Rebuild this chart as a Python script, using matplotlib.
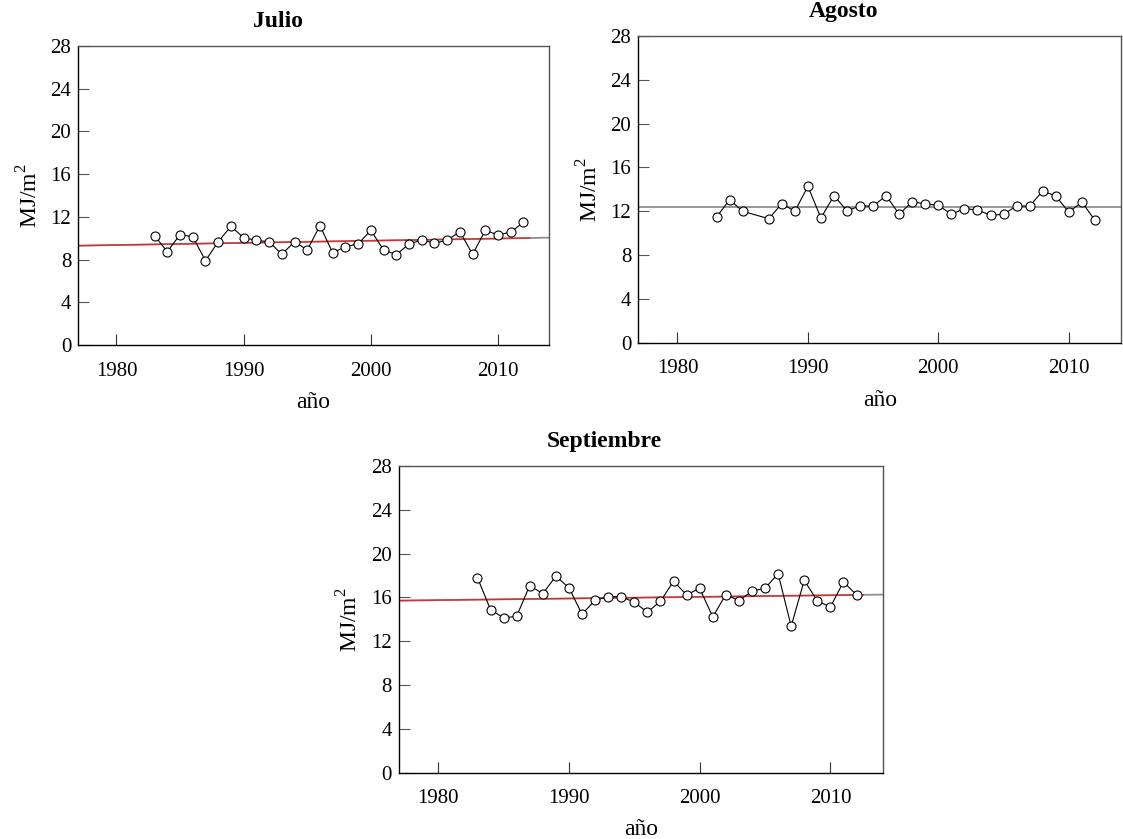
import matplotlib
matplotlib.use('Agg')
import matplotlib.pyplot as plt

plt.rcParams['font.family'] = ['Liberation Serif', 'DejaVu Serif']
plt.rcParams['mathtext.fontset'] = 'custom'
plt.rcParams['mathtext.rm'] = 'Liberation Serif'

# años y radiación media mensual (MJ/m2)
anios = list(range(1983, 2013))
julio = [10.23, 8.74, 10.33, 10.14, 7.89, 9.67, 11.11, 10.05, 9.80, 9.67,
         8.49, 9.67, 8.90, 11.17, 8.64, 9.20, 9.46, 10.74, 8.90, 8.46,
         9.46, 9.83, 9.55, 9.80, 10.61, 8.49, 10.74, 10.30, 10.58, 11.49]
# agosto: sin dato en 1986
anios_ago = [1983, 1984, 1985] + list(range(1987, 2013))
agosto = [11.48, 13.06, 12.00, 11.32, 12.69, 12.00, 14.28, 11.39, 13.42, 12.05,
          12.48, 12.48, 13.42, 11.73, 12.88, 12.67, 12.55, 11.73, 12.24, 12.12,
          11.63, 11.73, 12.48, 12.48, 13.85, 13.40, 11.91, 12.85, 11.18]
septiembre = [17.81, 14.89, 14.13, 14.28, 17.08, 16.35, 17.94, 16.89, 14.47, 15.74,
              16.07, 16.07, 15.56, 14.65, 15.65, 17.48, 16.23, 16.84, 14.22, 16.26,
              15.71, 16.57, 16.84, 18.17, 13.37, 17.57, 15.68, 15.13, 17.42, 16.23]

# tendencias (valor en 1977 y en 2014)
tend_julio = [9.30, 10.05]
tend_agosto = [12.35, 12.35]
tend_sept = [15.71, 16.26]

x_lim = [1977, 2014]
x_ticks = [1980, 1990, 2000, 2010]
y_ticks = [0, 4, 8, 12, 16, 20, 24, 28]


def panel(ax, x, y, tend, titulo, rojo=True):
    ax.plot(x_lim, tend, color='#8f8f8f', lw=1.3, zorder=1)
    if rojo:
        pend = (tend[1] - tend[0]) / (x_lim[1] - x_lim[0])
        ax.plot([x_lim[0], 2012.5], [tend[0], tend[0] + pend * (2012.5 - x_lim[0])],
                color='#e02a2a', lw=1.0, zorder=2)
    ax.plot(x, y, color='black', lw=0.8, marker='o', ms=6.5, mfc='white', mec='black',
            mew=0.8, zorder=3)
    ax.set_xlim(x_lim)
    ax.set_ylim(0, 28)
    ax.set_xticks(x_ticks)
    ax.set_yticks(y_ticks)
    ax.tick_params(axis='x', direction='in', length=8, width=0.8, color='#333333',
                   labelsize=15, pad=12)
    ax.tick_params(axis='y', direction='in', length=8, width=0.8, color='#555555',
                   labelsize=15, pad=5)
    for s in ['left', 'bottom']:
        ax.spines[s].set_color('black')
    for s in ['top', 'right']:
        ax.spines[s].set_color('#555555')
    for s in ax.spines.values():
        s.set_linewidth(1.0)
    ax.set_title(titulo, fontsize=17, fontweight='bold', x=0.425, pad=14)
    ax.set_xlabel('año', fontsize=17, labelpad=8)
    ax.set_ylabel(r'MJ/m$^{2}$', fontsize=17, labelpad=6)


fig = plt.figure(figsize=(11.23, 8.39), dpi=100)
ax1 = fig.add_axes([0.0697, 0.5888, 0.4191, 0.3564])
ax2 = fig.add_axes([0.5684, 0.5915, 0.4298, 0.3656])
ax3 = fig.add_axes([0.3553, 0.0790, 0.4307, 0.3656])

panel(ax1, anios, julio, tend_julio, 'Julio')
panel(ax2, anios_ago, agosto, tend_agosto, 'Agosto', rojo=False)
panel(ax3, anios, septiembre, tend_sept, 'Septiembre')

plt.savefig('out.png', dpi=100)
